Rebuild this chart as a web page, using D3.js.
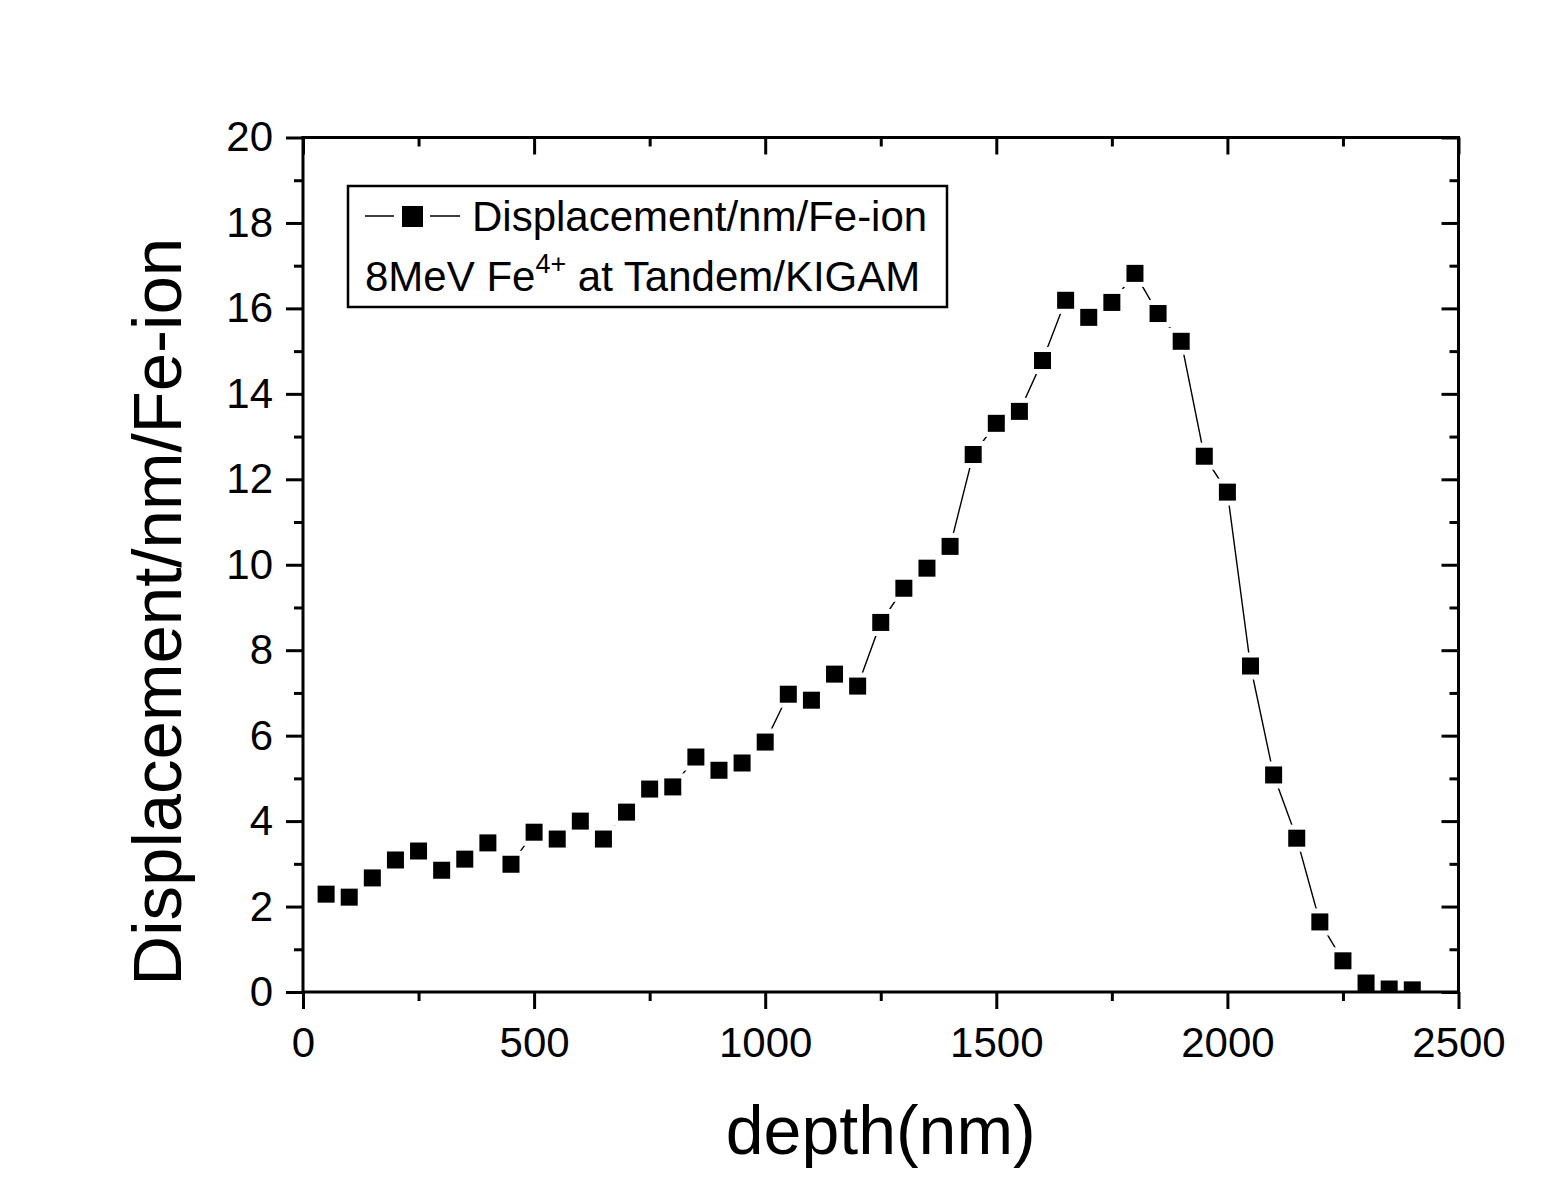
<!DOCTYPE html>
<html>
<head>
<meta charset="utf-8">
<script src="https://cdn.jsdelivr.net/npm/d3@7"></script>
<style>
  body { margin: 0; background: #fff; }
  text { font-family: "Liberation Sans", Arial, sans-serif; fill: #000; }
</style>
</head>
<body>
<div id="chart"></div>
<script>
// depth (nm) and displacement per nm per Fe ion
const depth = [50, 100, 150, 200, 250, 300, 350, 400, 450, 500, 550, 600, 650, 700, 750, 800,
  850, 900, 950, 1000, 1050, 1100, 1150, 1200, 1250, 1300, 1350, 1400, 1450, 1500, 1550, 1600,
  1650, 1700, 1750, 1800, 1850, 1900, 1950, 2000, 2050, 2100, 2150, 2200, 2250, 2300, 2350, 2400];
const displacement = [2.29, 2.22, 2.67, 3.09, 3.30, 2.85, 3.11, 3.49, 2.99, 3.74, 3.58, 4.00, 3.58, 4.21, 4.75, 4.80,
  5.50, 5.19, 5.36, 5.85, 6.97, 6.83, 7.44, 7.16, 8.65, 9.45, 9.92, 10.43, 12.58, 13.31, 13.59, 14.78,
  16.19, 15.79, 16.14, 16.82, 15.88, 15.23, 12.54, 11.70, 7.63, 5.08, 3.60, 1.64, 0.73, 0.21, 0.07, 0.05];
const xMajor = [0, 500, 1000, 1500, 2000, 2500];
const xMinor = [250, 750, 1250, 1750, 2250];
const yMajor = [0, 2, 4, 6, 8, 10, 12, 14, 16, 18, 20];
const yMinor = [1, 3, 5, 7, 9, 11, 13, 15, 17, 19];

const W = 1560, H = 1184;
const m = { left: 303, top: 137.5, right: 1458.5, bottom: 992 };
const pw = m.right - m.left, ph = m.bottom - m.top;

const svg = d3.select("#chart").append("svg")
  .attr("width", W).attr("height", H);

const x = d3.scaleLinear().domain([0, 2500]).range([0, pw]);
const y = d3.scaleLinear().domain([0, 20]).range([ph, 0]);

const g = svg.append("g").attr("transform", `translate(${m.left},${m.top})`);

svg.append("defs").append("clipPath").attr("id", "plotclip")
  .append("rect").attr("x", 0).attr("y", 0).attr("width", pw).attr("height", ph);

// data (clipped to the plot area, drawn under the frame)
const pts = depth.map((d, i) => ({ x: depth[i], y: displacement[i] }));
const dg = g.append("g").attr("clip-path", "url(#plotclip)");
dg.append("path")
  .datum(pts)
  .attr("fill", "none").attr("stroke", "#000").attr("stroke-width", 1.4)
  .attr("d", d3.line().x(d => x(d.x)).y(d => y(d.y)));

const ms = 17, gap = 5;
// white halos so the line stops short of each marker
dg.append("g").selectAll("rect")
  .data(pts).join("rect")
  .attr("x", d => x(d.x) - ms / 2 - gap).attr("y", d => y(d.y) - ms / 2 - gap)
  .attr("width", ms + 2 * gap).attr("height", ms + 2 * gap)
  .attr("fill", "#fff");
dg.append("g").selectAll("rect")
  .data(pts).join("rect")
  .attr("x", d => x(d.x) - ms / 2).attr("y", d => y(d.y) - ms / 2)
  .attr("width", ms).attr("height", ms)
  .attr("fill", "#000");

function styleAxis(sel) {
  sel.select(".domain").remove();
  sel.selectAll(".tick line").attr("stroke", "#000").attr("stroke-width", 3);
  sel.selectAll(".tick text").style("font-size", "42px")
    .style("font-family", "'Liberation Sans', Arial, sans-serif");
}

// bottom: outward ticks with labels
g.append("g").attr("transform", `translate(0,${ph})`)
  .call(d3.axisBottom(x).tickValues(xMajor).tickSize(17).tickPadding(18).tickFormat(d3.format("d")))
  .call(styleAxis);
g.append("g").attr("transform", `translate(0,${ph})`)
  .call(d3.axisBottom(x).tickValues(xMinor).tickSize(9).tickFormat(""))
  .call(styleAxis);
// top: inward ticks
g.append("g")
  .call(d3.axisTop(x).tickValues(xMajor).tickSize(-17).tickFormat(""))
  .call(styleAxis);
g.append("g")
  .call(d3.axisTop(x).tickValues(xMinor).tickSize(-9).tickFormat(""))
  .call(styleAxis);
// left: outward ticks with labels
g.append("g")
  .call(d3.axisLeft(y).tickValues(yMajor).tickSize(17).tickPadding(13).tickFormat(d3.format("d")))
  .call(styleAxis);
g.append("g")
  .call(d3.axisLeft(y).tickValues(yMinor).tickSize(9).tickFormat(""))
  .call(styleAxis);
// right: inward ticks
g.append("g").attr("transform", `translate(${pw},0)`)
  .call(d3.axisRight(y).tickValues(yMajor).tickSize(-17).tickFormat(""))
  .call(styleAxis);
g.append("g").attr("transform", `translate(${pw},0)`)
  .call(d3.axisRight(y).tickValues(yMinor).tickSize(-9).tickFormat(""))
  .call(styleAxis);

// frame
g.append("rect")
  .attr("x", 0).attr("y", 0).attr("width", pw).attr("height", ph)
  .attr("fill", "none").attr("stroke", "#000").attr("stroke-width", 3);

// legend
const lg = svg.append("g");
lg.append("rect")
  .attr("x", 348).attr("y", 186).attr("width", 599).attr("height", 121)
  .attr("fill", "#fff").attr("stroke", "#000").attr("stroke-width", 2.5);
lg.append("line").attr("x1", 365).attr("x2", 394).attr("y1", 216).attr("y2", 216)
  .attr("stroke", "#000").attr("stroke-width", 1.5);
lg.append("line").attr("x1", 430).attr("x2", 460).attr("y1", 216).attr("y2", 216)
  .attr("stroke", "#000").attr("stroke-width", 1.5);
lg.append("rect").attr("x", 402).attr("y", 206).attr("width", 21).attr("height", 21)
  .attr("fill", "#000");
lg.append("text").attr("x", 472).attr("y", 231)
  .style("font-size", "42px").text("Displacement/nm/Fe-ion");
const t2 = lg.append("text").attr("x", 365).attr("y", 291).style("font-size", "42px");
t2.append("tspan").text("8MeV Fe");
t2.append("tspan").attr("dy", -18).style("font-size", "27px").text("4+");
t2.append("tspan").attr("dy", 18).text(" at Tandem/KIGAM");

// axis titles
svg.append("text")
  .attr("x", m.left + pw / 2).attr("y", 1154)
  .attr("text-anchor", "middle").style("font-size", "68px")
  .text("depth(nm)");
svg.append("text")
  .attr("transform", `translate(181,${m.top + ph / 2 + 47}) rotate(-90)`)
  .attr("text-anchor", "middle").style("font-size", "69px")
  .text("Displacement/nm/Fe-ion");
</script>
</body>
</html>
